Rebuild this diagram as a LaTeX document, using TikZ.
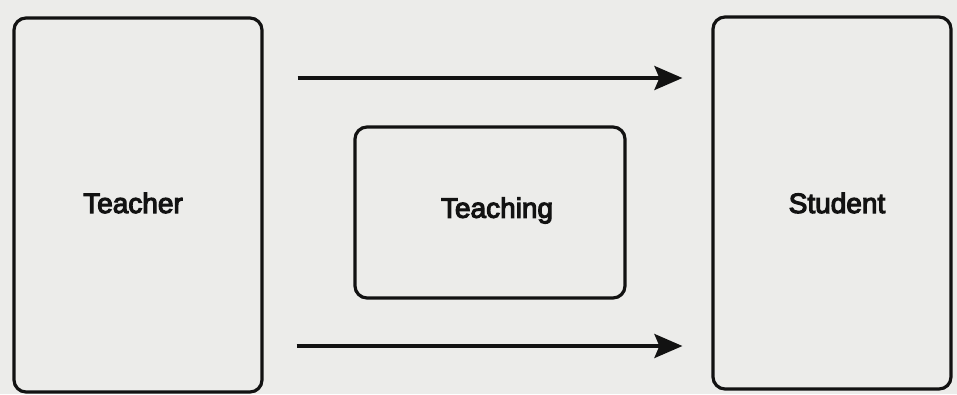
\documentclass[tikz,border=0pt]{standalone}
\usepackage{fontspec}
\newfontfamily\capfont{Liberation Sans}[FakeBold=4]
\usetikzlibrary{arrows.meta}
\definecolor{paper}{RGB}{236,236,234}
\definecolor{ink}{RGB}{18,18,18}
\tikzset{
  box/.style={draw=ink, line width=3.2pt, rounded corners=12pt, inner sep=0pt},
  caption/.style={font=\capfont\fontsize{28}{31}\selectfont, text=ink},
  flow/.style={draw=ink, line width=3.4pt,
               -{Stealth[length=28pt,width=24pt,inset=5pt]}}
}
\begin{document}
\begin{tikzpicture}[x=1pt,y=-1pt]
  % page
  \fill[paper] (0,0) rectangle (957,394);
  \useasboundingbox (0,0) rectangle (957,394);

  % boxes with their captions
  \node[box, minimum width=248pt, minimum height=374pt,
        label={[caption, xshift=-5pt, yshift=2pt]center:Teacher}] (teacher) at (138,205) {};
  \node[box, minimum width=238pt, minimum height=372pt,
        label={[caption, xshift=5pt]center:Student}] (student) at (832,203) {};
  \node[box, minimum width=270pt, minimum height=171pt,
        label={[caption, xshift=7pt, yshift=2pt]center:Teaching}] (teaching) at (490,212.5) {};

  % flows from teacher to student
  \draw[flow, shorten <=34pt, shorten >=29pt]
    (teacher.east |- {(0,78)}) -- (student.west |- {(0,78)});
  \draw[flow, shorten <=33pt, shorten >=29pt]
    (teacher.east |- {(0,346)}) -- (student.west |- {(0,346)});
\end{tikzpicture}
\end{document}
